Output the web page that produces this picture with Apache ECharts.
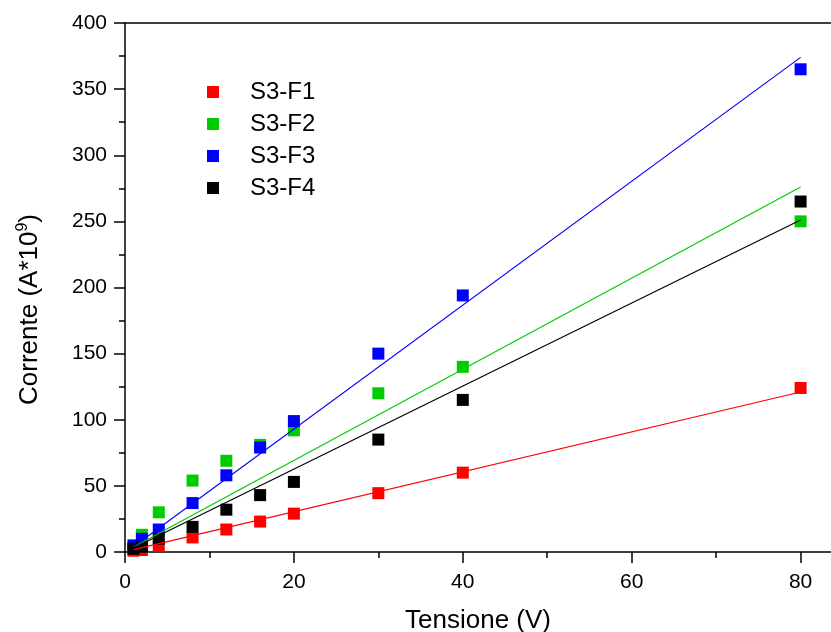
<!DOCTYPE html>
<html>
<head>
<meta charset="utf-8">
<script src="https://cdn.jsdelivr.net/npm/echarts@6/dist/echarts.min.js"></script>
<style>
html,body{margin:0;padding:0;background:#fff;}
#chart{width:831px;height:632px;}
</style>
</head>
<body>
<div id="chart"></div>
<script>
// Data
const tensione = [1, 2, 4, 8, 12, 16, 20, 30, 40, 80];
const f1 = [1, 1.5, 4.5, 11, 17, 23, 29, 44.5, 60, 124];
const f2 = [3, 13, 30, 54, 69, 81, 92, 120, 140, 250];
const f3 = [5, 10, 17, 37, 58, 79, 99, 150, 194, 365];
const f4 = [2.5, 4, 10, 19, 32, 43, 53, 85, 115, 265];
const seriesNames = ['S3-F1', 'S3-F2', 'S3-F3', 'S3-F4'];
const seriesColors = ['#ff0000', '#00cc00', '#0000ff', '#000000'];
// linear fit lines: y at start and end x
const fitX = [1, 80];
const fit1 = [1.8, 121];
const fit2 = [3.8, 276];
const fit3 = [4, 374];
const fit4 = [3, 251];
const xMajorTicks = [0, 20, 40, 60, 80];
const xMinorTicks = [10, 30, 50, 70];

const allY = [f1, f2, f3, f4];
const allFit = [fit1, fit2, fit3, fit4];

const fontFamily = 'Arial, "Liberation Sans", sans-serif';
const X_MAX = 83.6;

const series = [];
allY.forEach((ys, i) => {
  series.push({
    type: 'scatter',
    name: seriesNames[i],
    xAxisIndex: 0,
    data: tensione.map((x, k) => [x, ys[k]]),
    symbol: 'rect',
    symbolSize: 12,
    itemStyle: { color: seriesColors[i], opacity: 1 },
    z: 2
  });
});
allFit.forEach((fy, i) => {
  series.push({
    type: 'line',
    name: seriesNames[i] + ' fit',
    xAxisIndex: 0,
    data: fitX.map((x, k) => [x, fy[k]]),
    showSymbol: false,
    symbol: 'none',
    lineStyle: { color: seriesColors[i], width: 1.2 },
    z: 3,
    silent: true
  });
});

const chart = echarts.init(document.getElementById('chart'));
chart.setOption({
  animation: false,
  backgroundColor: '#fff',
  grid: { left: 125, top: 23, right: 0, bottom: 80, containLabel: false, outerBoundsMode: 'none' },
  legend: {
    orient: 'vertical',
    left: 202, top: 75,
    itemWidth: 12, itemHeight: 12, itemGap: 8,
    icon: 'rect',
    data: seriesNames,
    textStyle: { fontSize: 24, fontFamily: fontFamily, color: '#000', padding: [0, 0, 0, 26] }
  },
  xAxis: [{
    type: 'value', position: 'bottom',
    min: 0, max: X_MAX, interval: 20,
    name: 'Tensione (V)', nameLocation: 'middle', nameGap: 56,
    nameTextStyle: { fontSize: 26, fontFamily: fontFamily, color: '#000' },
    axisLine: { show: true, lineStyle: { color: '#000', width: 1.5 } },
    axisTick: { show: true, inside: false, length: 11, customValues: xMajorTicks, lineStyle: { color: '#000', width: 1.5 } },
    axisLabel: { fontSize: 21, fontFamily: fontFamily, color: '#000', margin: 20, customValues: xMajorTicks },
    splitLine: { show: false }
  }, {
    type: 'value', position: 'bottom',
    min: 0, max: X_MAX, interval: 20,
    axisLine: { show: false },
    axisTick: { show: true, inside: false, length: 6, customValues: xMinorTicks, lineStyle: { color: '#000', width: 1.5 } },
    axisLabel: { show: false },
    splitLine: { show: false }
  }, {
    type: 'value', position: 'top',
    min: 0, max: X_MAX, interval: 20,
    axisLine: { show: true, lineStyle: { color: '#000', width: 1.5 } },
    axisTick: { show: false },
    axisLabel: { show: false },
    splitLine: { show: false }
  }],
  yAxis: {
    type: 'value',
    min: 0, max: 400, interval: 50,
    name: 'Corrente (A*10{sup|9})', nameLocation: 'middle', nameGap: 80, nameRotate: 90,
    nameTextStyle: {
      fontSize: 26, fontFamily: fontFamily, color: '#000', padding: [0, 44, 0, 0],
      rich: { sup: { fontSize: 16, fontFamily: fontFamily, color: '#000', verticalAlign: 'top', padding: [0, 0, 14, 0] } }
    },
    axisLine: { show: true, lineStyle: { color: '#000', width: 1.5 } },
    axisTick: { show: true, inside: false, length: 11, lineStyle: { color: '#000', width: 1.5 } },
    minorTick: { show: true, splitNumber: 2, length: 6, lineStyle: { color: '#000', width: 1.5 } },
    axisLabel: { fontSize: 21, fontFamily: fontFamily, color: '#000', margin: 18 },
    splitLine: { show: false }
  },
  series: series
});
</script>
</body>
</html>
